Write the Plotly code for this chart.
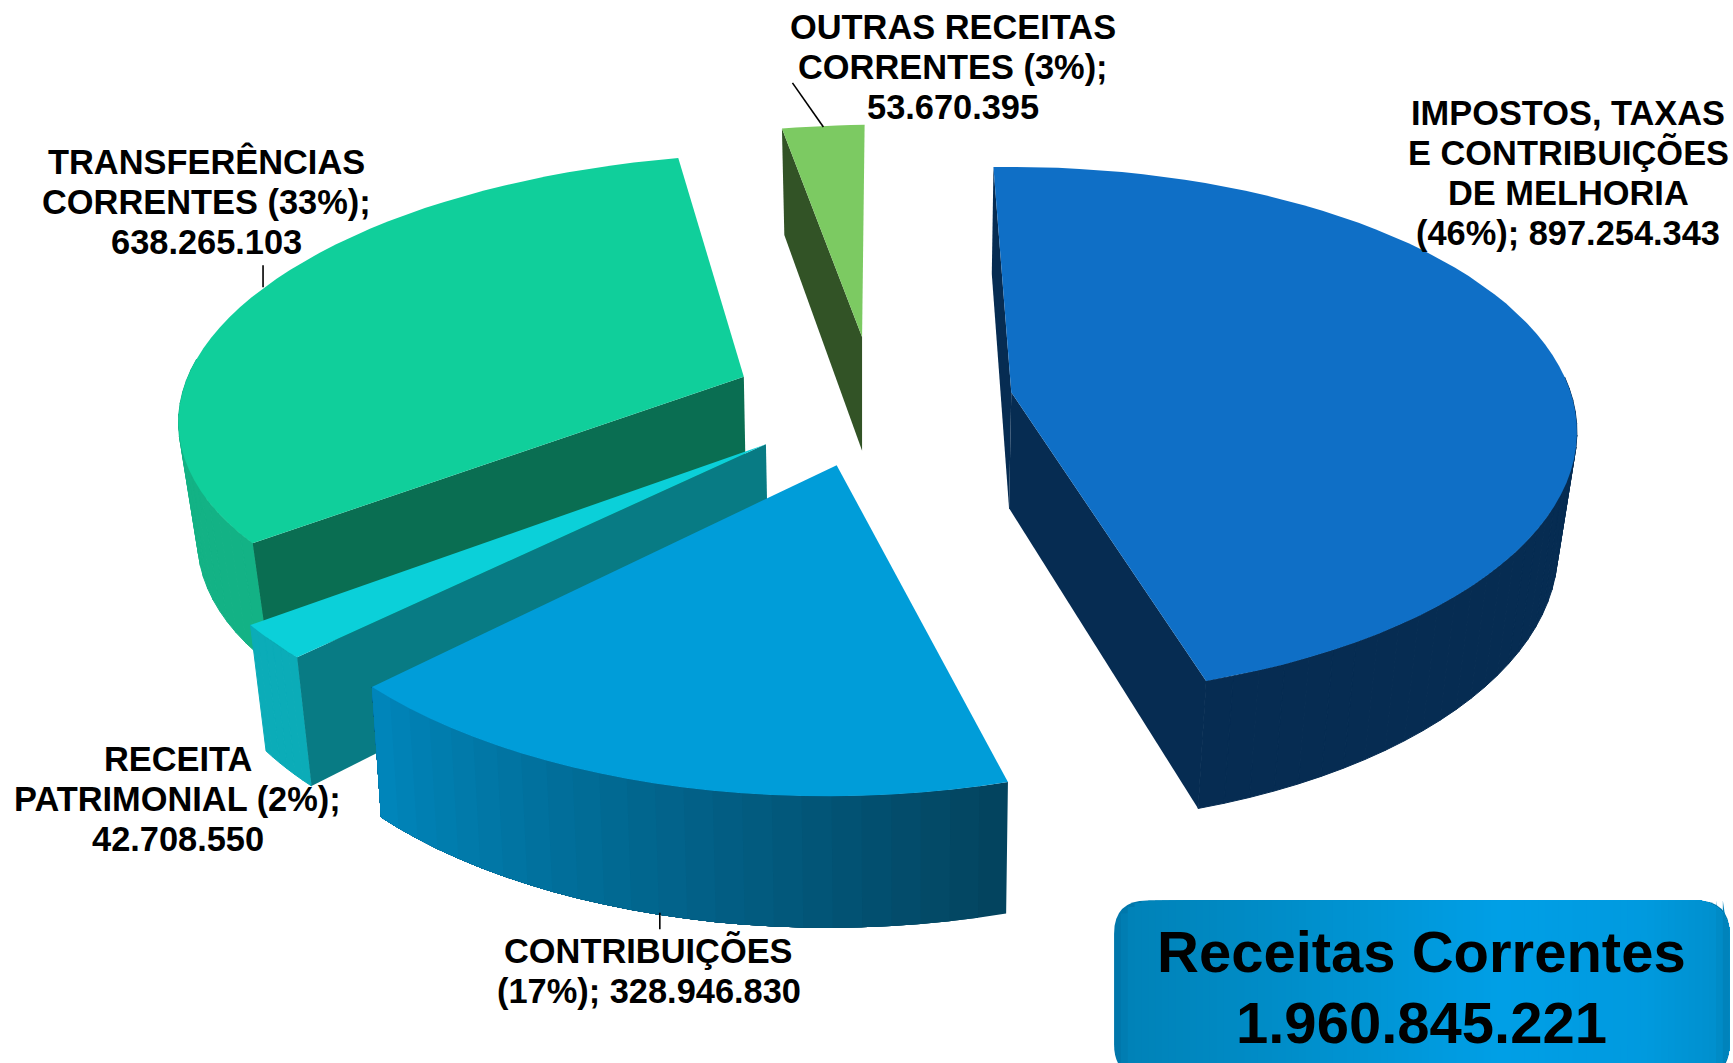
import math
import plotly.graph_objects as go

# ---- data
categories = ["IMPOSTOS, TAXAS E CONTRIBUIÇÕES DE MELHORIA", "CONTRIBUIÇÕES",
              "RECEITA PATRIMONIAL", "TRANSFERÊNCIAS CORRENTES", "OUTRAS RECEITAS CORRENTES"]
values = [897254343, 328946830, 42708550, 638265103, 53670395]
percents = [46, 17, 2, 33, 3]
total_label = "1.960.845.221"
box_title = "Receitas Correntes"
start_angle = -2.1  # degrees clockwise from the back of the pie


def money(v):
    return f"{v:,}".replace(",", ".")


label_lines = [
    ["IMPOSTOS, TAXAS", "E CONTRIBUIÇÕES", "DE MELHORIA", f"({percents[0]}%); {money(values[0])}"],
    ["CONTRIBUIÇÕES", f"({percents[1]}%); {money(values[1])}"],
    ["RECEITA", f"PATRIMONIAL ({percents[2]}%);", money(values[2])],
    ["TRANSFERÊNCIAS", f"CORRENTES ({percents[3]}%);", money(values[3])],
    ["OUTRAS RECEITAS", f"CORRENTES ({percents[4]}%);", money(values[4])],
]

# ---- styling and projection of each exploded slice (page scale 1568 x 962)
W, H = 1568, 962
proj = [
    dict(ax=915, ay=355, a=506, b=234.5, p=.15, k=0, ky=0, dx=-2, dy=105, sx=.97, sy=1.04,
         top="#0f6fc6", face="#062c52", wall=("#062c52", "#062c52"), faces=(0, 1)),
    dict(ax=757, ay=421, a=518, b=252, p=.16, k=-.097, ky=.019, dx=1, dy=116, sx=.983, sy=1.01,
         top="#009dd9", face="#005f83", wall=("#03445f", "#0085ba"), faces=()),
    dict(ax=693, ay=402, a=514, b=233, p=.16, k=-.14, ky=0, dx=2, dy=101, sx=.974, sy=1.08,
         top="#0bd0d9", face="#087b84", wall=("#0bacb8", "#0bacb8"), faces=(0,)),
    dict(ax=673, ay=341, a=503, b=223, p=.104, k=-.178, ky=0, dx=2, dy=106, sx=.97, sy=1.02,
         top="#10cf9b", face="#0a6e52", wall=("#13b285", "#13b285"), faces=(0,)),
    dict(ax=780, ay=305, a=505, b=223, p=.16, k=-.095, ky=0, dx=0, dy=103, sx=.97, sy=1.035,
         top="#7cca62", face="#325326", wall=None, faces=(0,)),
]
draw_order = [4, 3, 0, 2, 1]

label_pos = [
    (1419, [102, 138, 175, 211]),
    (587, [860, 897]),
    (161, [687, 723, 759]),
    (187, [146, 183, 219]),
    (862, [24, 61, 97]),
]
leaders = [((717, 745), (75, 115)), ((238, 238), (240, 260)), ((597, 597), (826, 841))]
label_size = 34.4
box_size = 58

# ---- angles come from the values
tot = sum(values)
spans = []
cur = start_angle
for v in values:
    sw = 360 * v / tot
    spans.append((cur, cur + sw))
    cur += sw


def top_pt(g, deg):
    t = math.radians(deg)
    u, v = math.sin(t), -math.cos(t)
    s = 1 / (1 - g["p"] * v)
    Y = g["b"] * v * s
    X = g["a"] * u * s + g["k"] * Y
    return g["ax"] + X, g["ay"] + Y + g["ky"] * X


def low_pt(g, pt):
    ry = pt[1] - g["ay"]
    return (g["ax"] + g["dx"] + g["sx"] * (pt[0] - g["ax"]),
            g["ay"] + g["dy"] + g["sy"] * ry)


def mix(c0, c1, f):
    a = [int(c0[i:i + 2], 16) for i in (1, 3, 5)]
    b = [int(c1[i:i + 2], 16) for i in (1, 3, 5)]
    return "rgb(%d,%d,%d)" % tuple(round(x + (y - x) * f) for x, y in zip(a, b))


fig = go.Figure()


def poly(pts, color, name=None, lw=0):
    fig.add_trace(go.Scatter(x=[p[0] for p in pts] + [pts[0][0]], y=[p[1] for p in pts] + [pts[0][1]],
                             mode="lines", fill="toself", fillcolor=color,
                             line=dict(color=color, width=lw), hoverinfo="skip",
                             showlegend=False, name=name))


for i in draw_order:
    g = proj[i]
    t0, t1 = spans[i]
    n = max(6, int((t1 - t0) / 2.5))
    angs = [t0 + (t1 - t0) * j / n for j in range(n + 1)]
    rim = [top_pt(g, a) for a in angs]
    low = [low_pt(g, p) for p in rim]
    if g["wall"] is not None:
        if g["wall"][0] != g["wall"][1]:
            # graded wall: each band runs to the end of the arc, later bands paint over it
            for j in range(n):
                poly(rim[j:] + low[j:][::-1], mix(g["wall"][0], g["wall"][1], j / max(n - 1, 1)))
        else:
            # plain wall: front-facing quads of one colour, a hairline closes the seams
            for j in range(n):
                if -math.cos(math.radians(angs[j])) > -0.05 or -math.cos(math.radians(angs[j + 1])) > -0.05:
                    poly([rim[j], rim[j + 1], low[j + 1], low[j]], g["wall"][0], lw=1)
    # cut faces
    apex = (g["ax"], g["ay"])
    apex_low = low_pt(g, apex)
    for f in g["faces"]:
        r = rim[0] if f == 0 else rim[-1]
        poly([apex, r, low_pt(g, r), apex_low], g["face"])
    # top
    poly([apex] + rim, g["top"], categories[i])

# leader lines
for xs, ys in leaders:
    fig.add_trace(go.Scatter(x=list(xs), y=list(ys), mode="lines", line=dict(color="black", width=1.6),
                             hoverinfo="skip", showlegend=False))

# labels
ann = []
for lines, (cx, ys) in zip(label_lines, label_pos):
    for t, y in zip(lines, ys):
        ann.append(dict(x=cx, y=y, text=f"<b>{t}</b>", showarrow=False, xanchor="center", yanchor="middle",
                        font=dict(family="Liberation Sans", size=label_size, color="black")))
ann.append(dict(x=1286, y=861, text=f"<b>{box_title}</b>", showarrow=False, xanchor="center", yanchor="middle",
                font=dict(family="Liberation Sans", size=box_size, color="black")))
ann.append(dict(x=1286, y=925, text=f"<b>{total_label}</b>", showarrow=False, xanchor="center", yanchor="middle",
                font=dict(family="Liberation Sans", size=box_size, color="black")))


def rrect(x0, y0, x1, y1, r):
    return (f"M{x0+r},{y0} L{x1-r},{y0} Q{x1},{y0} {x1},{y0+r} L{x1},{y1-r} Q{x1},{y1} {x1-r},{y1} "
            f"L{x0+r},{y1} Q{x0},{y1} {x0},{y1-r} L{x0},{y0+r} Q{x0},{y0} {x0+r},{y0} Z")


def inset(d, r):
    # how far the rounded corner cuts in at distance d from the box side
    return r - math.sqrt(max(r ** 2 - max(r - d, 0) ** 2, 0))


def band(x, x0, y0, x1, y1, r):
    # vertical slice of the rounded box from x to its right side
    pts = [(x, y0 + inset(x - x0, r))]
    for q in range(0, 13):
        t = math.radians(90 * q / 12)
        px, py = x1 - r + r * math.sin(t), y0 + r - r * math.cos(t)
        if px > x:
            pts.append((px, py))
    for q in range(12, -1, -1):
        t = math.radians(90 * q / 12)
        px, py = x1 - r + r * math.sin(t), y1 - r + r * math.cos(t)
        if px > x:
            pts.append((px, py))
    pts.append((x, y1 - inset(x - x0, r)))
    return "M" + " L".join(f"{a:.2f},{b:.2f}" for a, b in pts) + " Z"


ramp = [(0, "#0077ab"), (.02, "#0082b8"), (.3, "#008fcb"), (.62, "#009fe6"), (.85, "#009adf"),
        (.97, "#0090ce"), (1, "#007cb0")]


def ramp_color(f):
    for (f0, c0), (f1, c1) in zip(ramp, ramp[1:]):
        if f <= f1:
            return mix(c0, c1, (f - f0) / (f1 - f0))
    return ramp[-1][1]


shapes = []
bx0, by0, bx1, by1 = 1008, 815, 1565, 975
R = 30
shapes.append(dict(type="path", path=rrect(bx0, by0, bx1, by1, R), xref="x", yref="y",
                   line=dict(width=0), fillcolor=ramp[0][1], layer="below"))
steps = 90
for s in range(1, steps):
    f = s / steps
    x = bx0 + (bx1 - bx0) * f
    shapes.append(dict(type="path", path=band(x, bx0, by0, bx1, by1, R), xref="x", yref="y",
                       line=dict(width=0), fillcolor=ramp_color(f), layer="below"))

fig.update_layout(
    width=1733, height=1063, margin=dict(l=0, r=0, t=0, b=0), paper_bgcolor="white", plot_bgcolor="white",
    xaxis=dict(range=[0, W], visible=False, fixedrange=True),
    yaxis=dict(range=[H, 0], visible=False, fixedrange=True),
    showlegend=False, annotations=ann, shapes=shapes,
)
fig.write_html("out.html", config={"displayModeBar": False},
               post_script="document.body.style.margin='0';document.body.style.overflow='hidden';")
